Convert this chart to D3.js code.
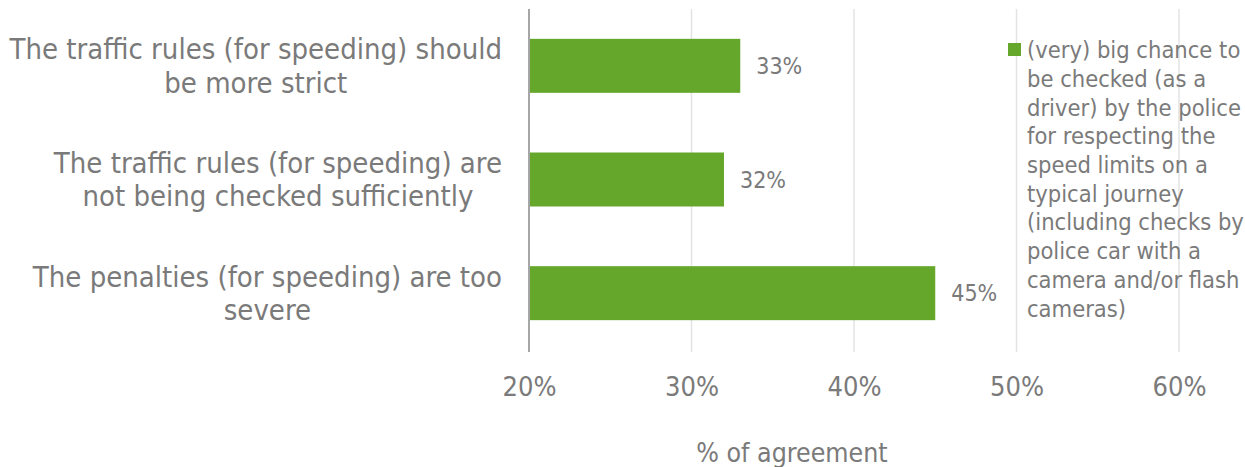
<!DOCTYPE html>
<html><head><meta charset="utf-8">
<script src="https://cdn.jsdelivr.net/npm/d3@7"></script>
<style>body{margin:0;background:#fff}text{font-family:"DejaVu Sans Condensed","DejaVu Sans",Verdana,sans-serif;font-stretch:condensed;fill:#7a7a7a}</style>
</head><body>
<svg id="c" width="1245" height="467"></svg>
<script>
const categories = [
  ["The traffic rules (for speeding) should", "be more strict"],
  ["The traffic rules (for speeding) are", "not being checked sufficiently"],
  ["The penalties (for speeding) are too", "severe"]
];
const values = [33, 32, 45];
const tickValues = [20, 30, 40, 50, 60];
const seriesName = ["(very) big chance to", "be checked (as a", "driver) by the police", "for respecting the", "speed limits on a", "typical journey", "(including checks by", "police car with a", "camera and/or flash", "cameras)"];
const axisTitle = "% of agreement";

const svg = d3.select("#c");
const x = d3.scaleLinear().domain([20, 60]).range([529, 1179]);
const y = d3.scaleBand().domain(d3.range(categories.length)).range([9, 350]).paddingInner(0.525).paddingOuter(0.2625);

// gridlines
svg.append("g").selectAll("line").data(tickValues.slice(1)).join("line")
  .attr("x1", d => x(d)).attr("x2", d => x(d)).attr("y1", 9).attr("y2", 352)
  .attr("stroke", "#e3e3e3").attr("stroke-width", 1.5);

// bars
svg.append("g").selectAll("rect").data(values).join("rect")
  .attr("x", x(20)).attr("y", (d, i) => y(i)).attr("height", y.bandwidth())
  .attr("width", d => x(d) - x(20)).attr("fill", "#65a72a");

// axis line
svg.append("line").attr("x1", x(20)).attr("x2", x(20)).attr("y1", 9).attr("y2", 352)
  .attr("stroke", "#a6a6a6").attr("stroke-width", 2);

// x axis
const xAxis = d3.axisBottom(x).tickValues(tickValues).tickFormat(d => d + "%").tickSize(0).tickPadding(0);
const gx = svg.append("g").attr("transform", "translate(0,377)").call(xAxis);
gx.select(".domain").remove();
gx.selectAll("text").attr("font-size", 27).attr("fill", "#7a7a7a").attr("dy", "0.71em")
  .style("font-family", '"DejaVu Sans Condensed","DejaVu Sans",Verdana,sans-serif');

svg.append("text").attr("x", 792).attr("y", 462).attr("text-anchor", "middle")
  .attr("font-size", 26.5).text(axisTitle);

// value labels
svg.append("g").selectAll("text").data(values).join("text")
  .attr("x", d => x(d) + 16).attr("y", (d, i) => y(i) + y.bandwidth() / 2)
  .attr("dy", "0.35em").attr("font-size", 23).text(d => d + "%");

// category labels
const labG = svg.append("g");
categories.forEach((lines, i) => {
  const g = labG.append("g");
  const cy = y(i) + y.bandwidth() / 2;
  const texts = lines.map((l, j) => g.append("text").attr("font-size", 29)
    .attr("y", cy + (j - (lines.length - 1) / 2) * 33.5).attr("dy", "0.35em")
    .attr("text-anchor", "middle").text(l));
  const maxW = d3.max(texts, t => t.node().getComputedTextLength());
  texts.forEach(t => t.attr("x", 502 - maxW / 2));
});

// legend
svg.append("rect").attr("x", 1008).attr("y", 43).attr("width", 13).attr("height", 13).attr("fill", "#65a72a");
svg.append("g").selectAll("text").data(seriesName).join("text")
  .attr("x", 1027).attr("y", (d, i) => 50 + i * 28.7).attr("dy", "0.35em")
  .attr("font-size", 23.5).text(d => d);
</script>
</body></html>
